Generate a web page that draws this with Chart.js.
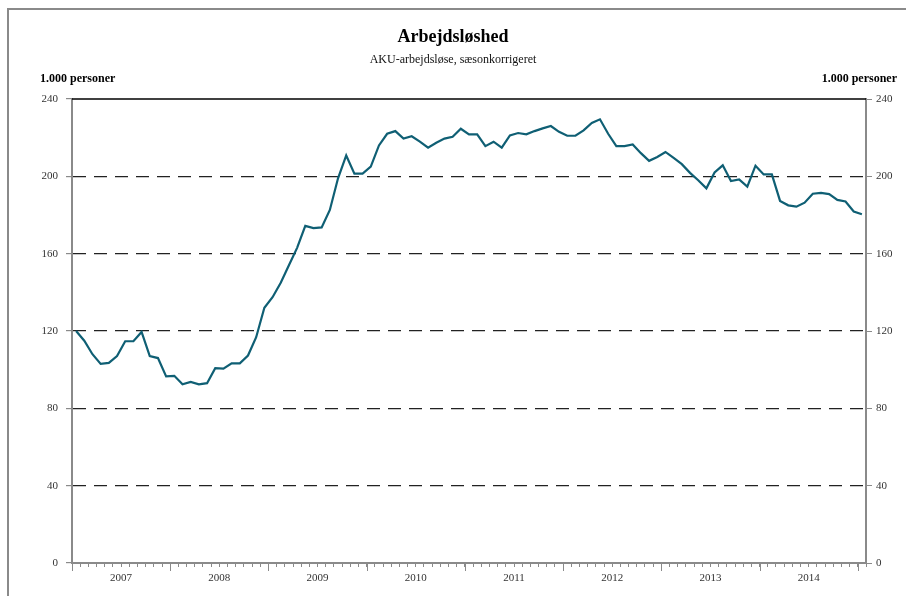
<!DOCTYPE html>
<html lang="da">
<head>
  <meta charset="UTF-8">
  <title>Arbejdsløshed</title>
  <script src="https://cdn.jsdelivr.net/npm/chart.js"></script>
  <style>
    html, body { margin: 0; padding: 0; background: #fff; }
    #wrap { position: relative; width: 906px; height: 596px; }
    #frame {
      position: absolute; left: 7px; top: 8px; right: 0; bottom: 0;
      border-top: 2px solid #8a8a8a; border-left: 2px solid #8a8a8a;
      pointer-events: none;
    }
  </style>
</head>
<body>
  <div id="wrap">
    <canvas id="akuChart"></canvas>
    <div id="frame"></div>
  </div>

  <script>
    // AKU-ledige, 1.000 personer, månedlig jan 2007 - jan 2015
    const years = ['2007', '2008', '2009', '2010', '2011', '2012', '2013', '2014'];
    const ledige = [
      120, 115, 108, 103, 103.5, 107, 114.7, 114.7, 119.5, 107, 106, 96.5,
      96.8, 92.4, 93.7, 92.4, 93, 100.8, 100.5, 103.3, 103.3, 107.3, 116.8, 132,
      137.5, 145, 154, 163, 174.4, 173.2, 173.6, 182.6, 199, 210.8, 201.4, 201.4,
      205, 216, 222, 223.4, 219.5, 220.7, 218, 214.8, 217.4, 219.5, 220.5, 224.6,
      221.7, 221.7, 215.6, 217.9, 214.8, 221.2, 222.4, 221.7, 223.4, 224.8, 226, 223,
      221, 221, 223.8, 227.6, 229.5, 222, 215.6, 215.6, 216.5, 212, 208, 210,
      212.6, 209.5, 206.3, 201.8, 198, 193.8, 202, 205.7, 197.6, 198.4, 194.7, 205.5,
      201, 201, 187.3, 185, 184.3, 186.4, 191, 191.4, 190.8, 187.8, 187, 181.8,
      180.4
    ];
    const yTicks = [0, 40, 80, 120, 160, 200, 240];
    const unitLabel = '1.000 personer';

    const serif = "'Liberation Serif', 'DejaVu Serif', serif";
    const axisGray = '#8a8a8a';

    // extra drawing: unit labels, black top line, longer year ticks
    const extras = {
      id: 'extras',
      afterDraw(chart) {
        const ctx = chart.ctx;
        const area = chart.chartArea;
        const x = chart.scales.x;
        ctx.save();
        ctx.font = 'bold 12px ' + serif;
        ctx.fillStyle = '#000';
        ctx.textBaseline = 'middle';
        ctx.textAlign = 'left';
        ctx.fillText(unitLabel, area.left - 32, area.top - 20);
        ctx.textAlign = 'right';
        ctx.fillText(unitLabel, area.right + 31, area.top - 20);

        ctx.strokeStyle = '#000';
        ctx.lineWidth = 1.5;
        ctx.beginPath();
        ctx.moveTo(area.left, area.top);
        ctx.lineTo(area.right, area.top);
        ctx.stroke();

        ctx.strokeStyle = axisGray;
        ctx.lineWidth = 1;
        for (let i = 0; i <= years.length; i++) {
          const px = Math.round(x.getPixelForValue(i * 12 - 0.5)) + 0.5;
          ctx.beginPath();
          ctx.moveTo(px, area.bottom);
          ctx.lineTo(px, area.bottom + 8);
          ctx.stroke();
        }
        ctx.restore();
      }
    };

    new Chart(document.getElementById('akuChart'), {
      type: 'line',
      data: {
        datasets: [{
          label: 'AKU-ledige',
          data: ledige.map((v, i) => ({ x: i, y: v })),
          borderColor: '#0f5f74',
          borderWidth: 2.2,
          pointRadius: 0,
          tension: 0,
          yAxisID: 'y'
        }]
      },
      options: {
        responsive: true,
        maintainAspectRatio: false,
        animation: false,
        layout: { padding: 0 },
        plugins: {
          legend: { display: false },
          tooltip: { enabled: false },
          title: {
            display: true,
            text: 'Arbejdsløshed',
            color: '#000',
            font: { family: serif, size: 18, weight: 'bold' },
            padding: { top: 27, bottom: 2 }
          },
          subtitle: {
            display: true,
            text: 'AKU-arbejdsløse, sæsonkorrigeret',
            color: '#111',
            font: { family: serif, size: 12 },
            padding: { top: 2, bottom: 32 }
          }
        },
        scales: {
          x: {
            type: 'linear',
            min: -0.5,
            max: ledige.length - 0.5,
            afterFit: s => { s.height = 33; },
            afterBuildTicks: s => {
              const t = [];
              for (let i = 0; i <= ledige.length; i++) t.push({ value: i - 0.5 });
              s.ticks = t;
            },
            ticks: {
              autoSkip: false,
              maxRotation: 0,
              padding: 5,
              color: '#333',
              font: { family: serif, size: 11 },
              callback: v => {
                const k = (v - 5.5) / 12;
                return Number.isInteger(k) && years[k] ? years[k] : '';
              }
            },
            grid: {
              drawOnChartArea: false,
              tickLength: 4,
              tickColor: axisGray
            },
            border: { color: axisGray, width: 2 }
          },
          y: {
            position: 'left',
            min: 0,
            max: 240,
            afterFit: s => { s.width = 72; },
            afterBuildTicks: s => { s.ticks = yTicks.map(v => ({ value: v })); },
            ticks: {
              padding: 8,
              color: '#333',
              font: { family: serif, size: 11 }
            },
            grid: {
              color: c => (c.tick && (c.tick.value === 0 || c.tick.value === 240)) ? 'rgba(0,0,0,0)' : '#222',
              lineWidth: 1.2,
              tickLength: 6,
              tickColor: axisGray
            },
            border: { color: axisGray, width: 2, dash: [13, 8] }
          },
          y2: {
            position: 'right',
            min: 0,
            max: 240,
            afterFit: s => { s.width = 40; },
            afterBuildTicks: s => { s.ticks = yTicks.map(v => ({ value: v })); },
            ticks: {
              padding: 4,
              color: '#333',
              font: { family: serif, size: 11 }
            },
            grid: {
              drawOnChartArea: false,
              tickLength: 6,
              tickColor: axisGray
            },
            border: { color: axisGray, width: 2 }
          }
        }
      },
      plugins: [extras]
    });
  </script>
</body>
</html>
